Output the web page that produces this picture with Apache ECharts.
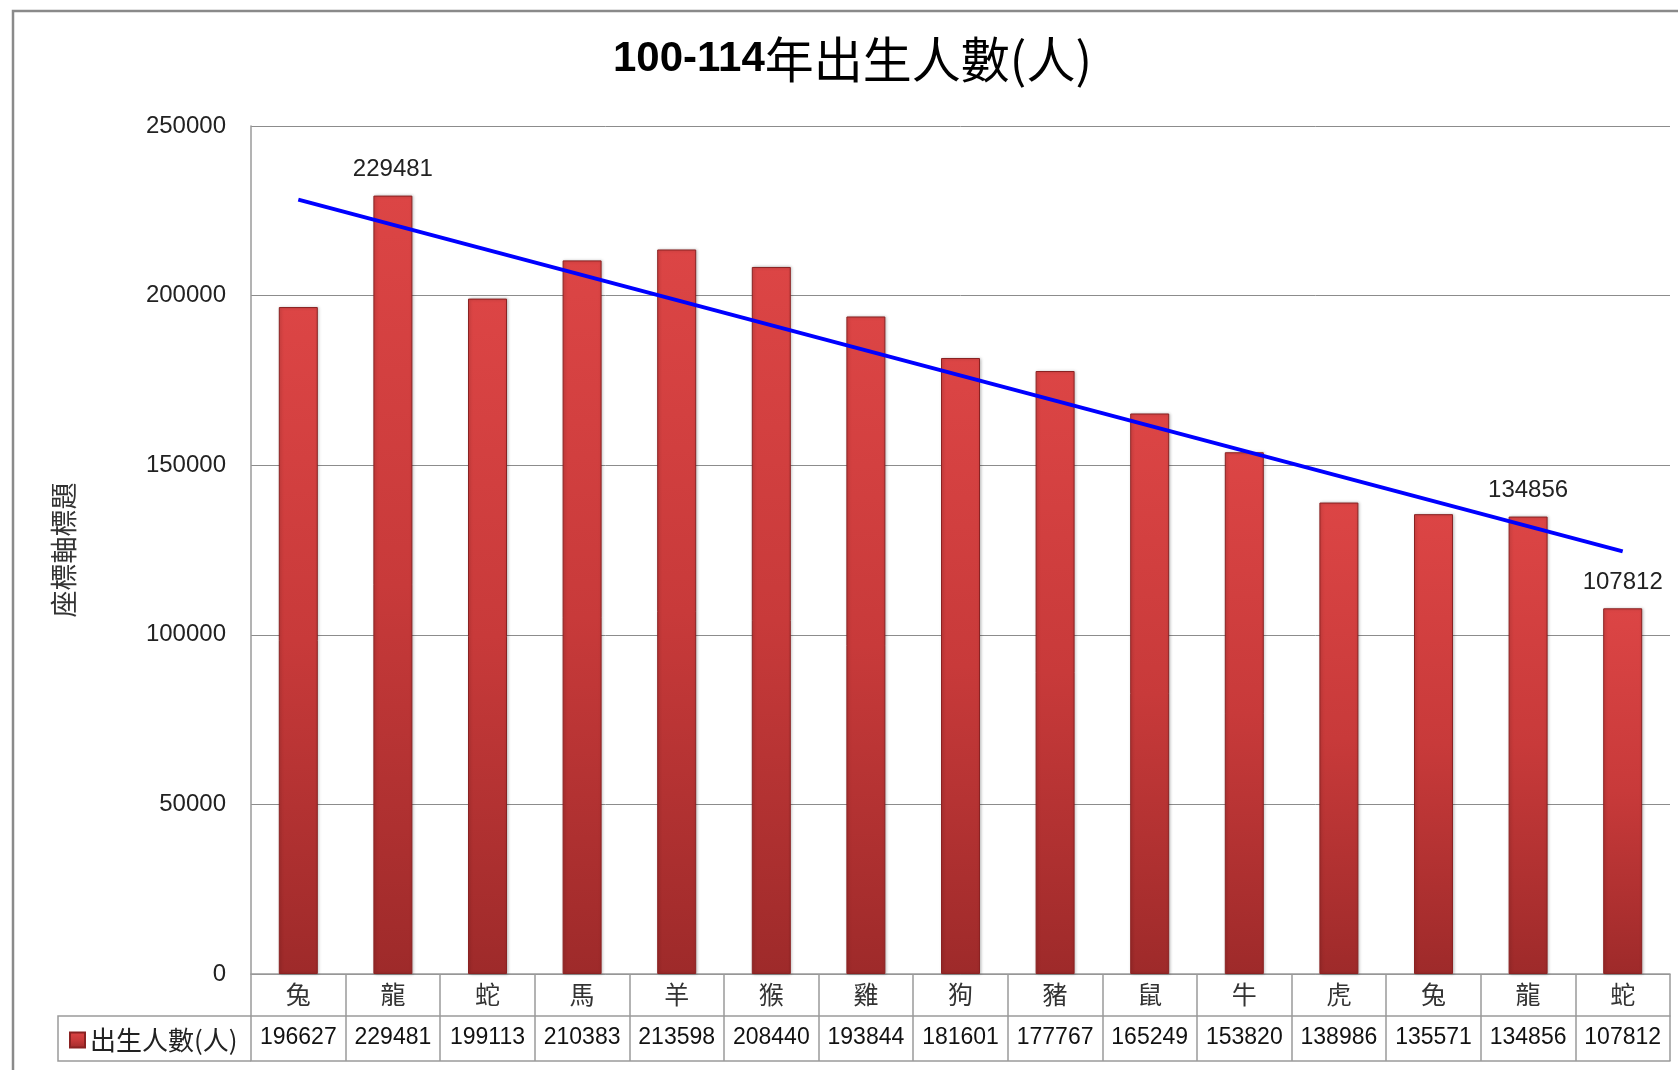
<!DOCTYPE html>
<html>
<head>
<meta charset="utf-8">
<script src="https://cdn.jsdelivr.net/npm/echarts@6/dist/echarts.min.js"></script>
<style>
  html, body { margin: 0; padding: 0; background: #fff; }
  #main { width: 1678px; height: 1070px; }
</style>
</head>
<body>
<div id="main"></div>
<script>
// 生肖 (民國100-114年)
var zodiac = ['兔', '龍', '蛇', '馬', '羊', '猴', '雞', '狗', '豬', '鼠', '牛', '虎', '兔', '龍', '蛇'];
var births = [196627, 229481, 199113, 210383, 213598, 208440, 193844, 181601, 177767, 165249, 153820, 138986, 135571, 134856, 107812];
// 趨勢線兩端
var trendEnds = [228300, 124600];
// 有標籤的資料點
var labelled = [1, 13, 14];
var yTicks = { min: 0, max: 250000, interval: 50000 };

var seriesName = '出生人數(人)';
var numFont = '"Liberation Sans", Arial, sans-serif';
var cjkFont = '"Noto Sans CJK TC", "Noto Sans CJK SC", sans-serif';

var trendData = zodiac.map(function (z, i) {
    if (i === 0) return trendEnds[0];
    if (i === zodiac.length - 1) return trendEnds[1];
    return null;
});

var barData = births.map(function (v, i) {
    return {
        value: v,
        label: { show: labelled.indexOf(i) >= 0 }
    };
});

var chart = echarts.init(document.getElementById('main'));
chart.setOption({
    backgroundColor: '#fff',
    animation: false,
    title: {
        text: '{a|100-114}{b|年出生人數(人)}',
        left: 608,
        top: 30,
        textStyle: {
            rich: {
                a: { fontFamily: numFont, fontWeight: 'bold', fontSize: 42, color: '#000' },
                b: { fontFamily: cjkFont, fontWeight: 'normal', fontSize: 49, color: '#000' }
            }
        }
    },
    legend: {
        data: [seriesName],
        left: 64,
        top: 1022,
        icon: 'rect',
        itemWidth: 15,
        itemHeight: 15,
        itemGap: 6,
        textStyle: { fontFamily: cjkFont, fontSize: 26, color: '#222' }
    },
    grid: { left: 251, right: 8, top: 126, bottom: 96 },
    xAxis: [
        {
            type: 'category',
            data: zodiac,
            position: 'bottom',
            axisLine: { lineStyle: { color: '#9a9a9a', width: 1.5 } },
            axisTick: { show: true, interval: 0, length: 87, lineStyle: { color: '#9a9a9a', width: 1.5 } },
            axisLabel: { interval: 0, margin: 8, fontFamily: cjkFont, fontSize: 25, color: '#333' }
        },
        {
            type: 'category',
            data: zodiac,
            position: 'bottom',
            offset: 42,
            axisLine: { lineStyle: { color: '#9a9a9a', width: 1.5 } },
            axisTick: { show: false },
            axisLabel: {
                interval: 0, margin: 10,
                fontFamily: numFont,
                fontSize: 23, color: '#111',
                formatter: function (v, i) { return String(births[i]); }
            }
        },
        {
            type: 'category',
            data: zodiac,
            position: 'bottom',
            offset: 87,
            axisLine: { lineStyle: { color: '#9a9a9a', width: 1.5 } },
            axisTick: { show: false },
            axisLabel: { show: false }
        }
    ],
    yAxis: {
        type: 'value',
        min: yTicks.min,
        max: yTicks.max,
        interval: yTicks.interval,
        name: '座標軸標題',
        nameLocation: 'middle',
        nameRotate: 90,
        nameGap: 174,
        nameTextStyle: { fontFamily: cjkFont, fontSize: 27, color: '#333' },
        axisLine: { show: true, lineStyle: { color: '#9a9a9a', width: 1.5 } },
        axisTick: { show: false },
        axisLabel: {
            margin: 25, fontFamily: numFont, fontSize: 24, color: '#222',
            formatter: function (v) { return String(v); }
        },
        splitLine: { lineStyle: { color: '#8c8c8c', width: 1 } }
    },
    series: [
        {
            name: seriesName,
            type: 'bar',
            xAxisIndex: 0,
            barWidth: 39,
            data: barData,
            itemStyle: {
                color: new echarts.graphic.LinearGradient(0, 0, 0, 1, [
                    { offset: 0, color: '#dc4545' },
                    { offset: 0.5, color: '#c83a3a' },
                    { offset: 1, color: '#9e2a2a' }
                ]),
                borderColor: '#8a2222',
                borderWidth: 1,
                shadowColor: 'rgba(0,0,0,0.25)',
                shadowBlur: 3,
                shadowOffsetX: 1
            },
            label: {
                position: 'top',
                distance: 14,
                fontFamily: numFont,
                fontSize: 24,
                color: '#222'
            },
            z: 2
        },
        {
            name: '趨勢線',
            type: 'line',
            xAxisIndex: 0,
            data: trendData,
            connectNulls: true,
            symbol: 'none',
            lineStyle: { color: '#0000ff', width: 4 },
            z: 3
        }
    ],
    graphic: [
        {
            type: 'rect',
            shape: { x: 13, y: 11, width: 1720, height: 1120 },
            style: { fill: 'none', stroke: '#8a8a8a', lineWidth: 2.5 },
            silent: true
        },
        {
            type: 'polyline',
            shape: { points: [[251, 1016], [58, 1016], [58, 1061], [251, 1061]] },
            style: { fill: 'none', stroke: '#9a9a9a', lineWidth: 1.5 },
            silent: true
        }
    ]
});
</script>
</body>
</html>
